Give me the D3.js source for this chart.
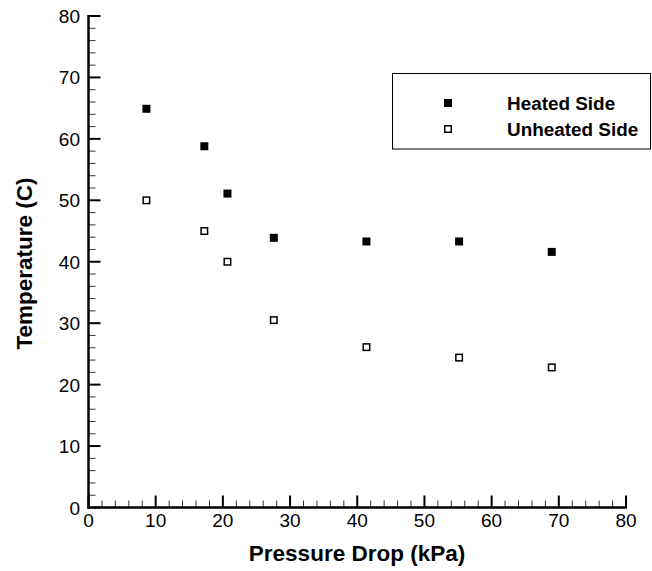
<!DOCTYPE html>
<html>
<head>
<meta charset="utf-8">
<script src="https://cdn.jsdelivr.net/npm/d3@7"></script>
<style>
  html, body { margin: 0; padding: 0; background: #fff; }
  svg { display: block; font-family: "Liberation Sans", Arial, sans-serif; }
</style>
</head>
<body>
<svg id="chart" width="652" height="571"></svg>
<script>
// Data
const pressureDrop = [8.62, 17.24, 20.68, 27.58, 41.37, 55.16, 68.95];
const heatedSide   = [64.9, 58.8, 51.1, 43.9, 43.3, 43.3, 41.6];
const unheatedSide = [50.0, 45.0, 40.0, 30.5, 26.1, 24.4, 22.8];
const seriesNames  = ["Heated Side", "Unheated Side"];
const xTicks = [0, 10, 20, 30, 40, 50, 60, 70, 80];
const yTicks = [0, 10, 20, 30, 40, 50, 60, 70, 80];
const xTitle = "Pressure Drop (kPa)";
const yTitle = "Temperature (C)";

const svg = d3.select("#chart");
const x = d3.scaleLinear().domain([0, 80]).range([88.5, 626]);
const y = d3.scaleLinear().domain([0, 80]).range([507.5, 16]);

const minorVals = d3.range(0, 81, 2).filter(v => v % 10 !== 0);

// Minor ticks
const gx = svg.append("g");
gx.selectAll("line.minor").data(minorVals).join("line")
  .attr("x1", d => x(d)).attr("x2", d => x(d))
  .attr("y1", y(0)).attr("y2", y(0) - 7)
  .attr("stroke", "#333").attr("stroke-width", 1);
gx.selectAll("line.major").data(xTicks).join("line")
  .attr("x1", d => x(d)).attr("x2", d => x(d))
  .attr("y1", y(0)).attr("y2", y(0) - 12)
  .attr("stroke", "#000").attr("stroke-width", 2);
gx.selectAll("text").data(xTicks).join("text")
  .attr("x", d => x(d)).attr("y", 527)
  .attr("text-anchor", "middle")
  .attr("font-size", 19)
  .text(d => d);

const gy = svg.append("g");
gy.selectAll("line.minor").data(minorVals).join("line")
  .attr("y1", d => y(d)).attr("y2", d => y(d))
  .attr("x1", x(0)).attr("x2", x(0) + 7)
  .attr("stroke", "#333").attr("stroke-width", 1);
gy.selectAll("line.major").data(yTicks).join("line")
  .attr("y1", d => y(d)).attr("y2", d => y(d))
  .attr("x1", x(0)).attr("x2", x(0) + 12)
  .attr("stroke", "#000").attr("stroke-width", 2);
gy.selectAll("text").data(yTicks).join("text")
  .attr("x", 80).attr("y", d => y(d) + 7)
  .attr("text-anchor", "end")
  .attr("font-size", 19)
  .text(d => d);

// Axis lines
svg.append("line").attr("x1", x(0)).attr("x2", x(0)).attr("y1", y(80) - 1).attr("y2", y(0) + 1)
  .attr("stroke", "#000").attr("stroke-width", 2.5);
svg.append("line").attr("x1", x(0) - 1).attr("x2", x(80) + 1).attr("y1", y(0)).attr("y2", y(0))
  .attr("stroke", "#000").attr("stroke-width", 2.5);

// Titles
svg.append("text").attr("x", 357).attr("y", 561).attr("text-anchor", "middle")
  .attr("font-size", 22.5).attr("font-weight", "bold").text(xTitle);
svg.append("text").attr("transform", "translate(32,263.5) rotate(-90)")
  .attr("text-anchor", "middle")
  .attr("font-size", 22.5).attr("font-weight", "bold").text(yTitle);

// Points
const s = 8;
svg.append("g").selectAll("rect").data(pressureDrop).join("rect")
  .attr("x", (d, i) => x(d) - s / 2).attr("y", (d, i) => y(heatedSide[i]) - s / 2)
  .attr("width", s).attr("height", s).attr("fill", "#000");
svg.append("g").selectAll("rect").data(pressureDrop).join("rect")
  .attr("x", (d, i) => x(d) - s / 2 + 0.75).attr("y", (d, i) => y(unheatedSide[i]) - s / 2 + 0.75)
  .attr("width", s - 1.5).attr("height", s - 1.5)
  .attr("fill", "#fff").attr("stroke", "#000").attr("stroke-width", 1.5);

// Legend
const lg = svg.append("g");
lg.append("rect").attr("x", 392.5).attr("y", 73.5).attr("width", 258).attr("height", 75.5)
  .attr("fill", "#fff").attr("stroke", "#000").attr("stroke-width", 1);
lg.append("rect").attr("x", 448 - s / 2).attr("y", 103 - s / 2).attr("width", s).attr("height", s).attr("fill", "#000");
lg.append("rect").attr("x", 448 - s / 2 + 0.75).attr("y", 129 - s / 2 + 0.75).attr("width", s - 1.5).attr("height", s - 1.5)
  .attr("fill", "#fff").attr("stroke", "#000").attr("stroke-width", 1.5);
lg.selectAll("text").data(seriesNames).join("text")
  .attr("x", 507).attr("y", (d, i) => 110 + i * 26)
  .attr("font-size", 18.9).attr("font-weight", "bold").text(d => d);
</script>
</body>
</html>
